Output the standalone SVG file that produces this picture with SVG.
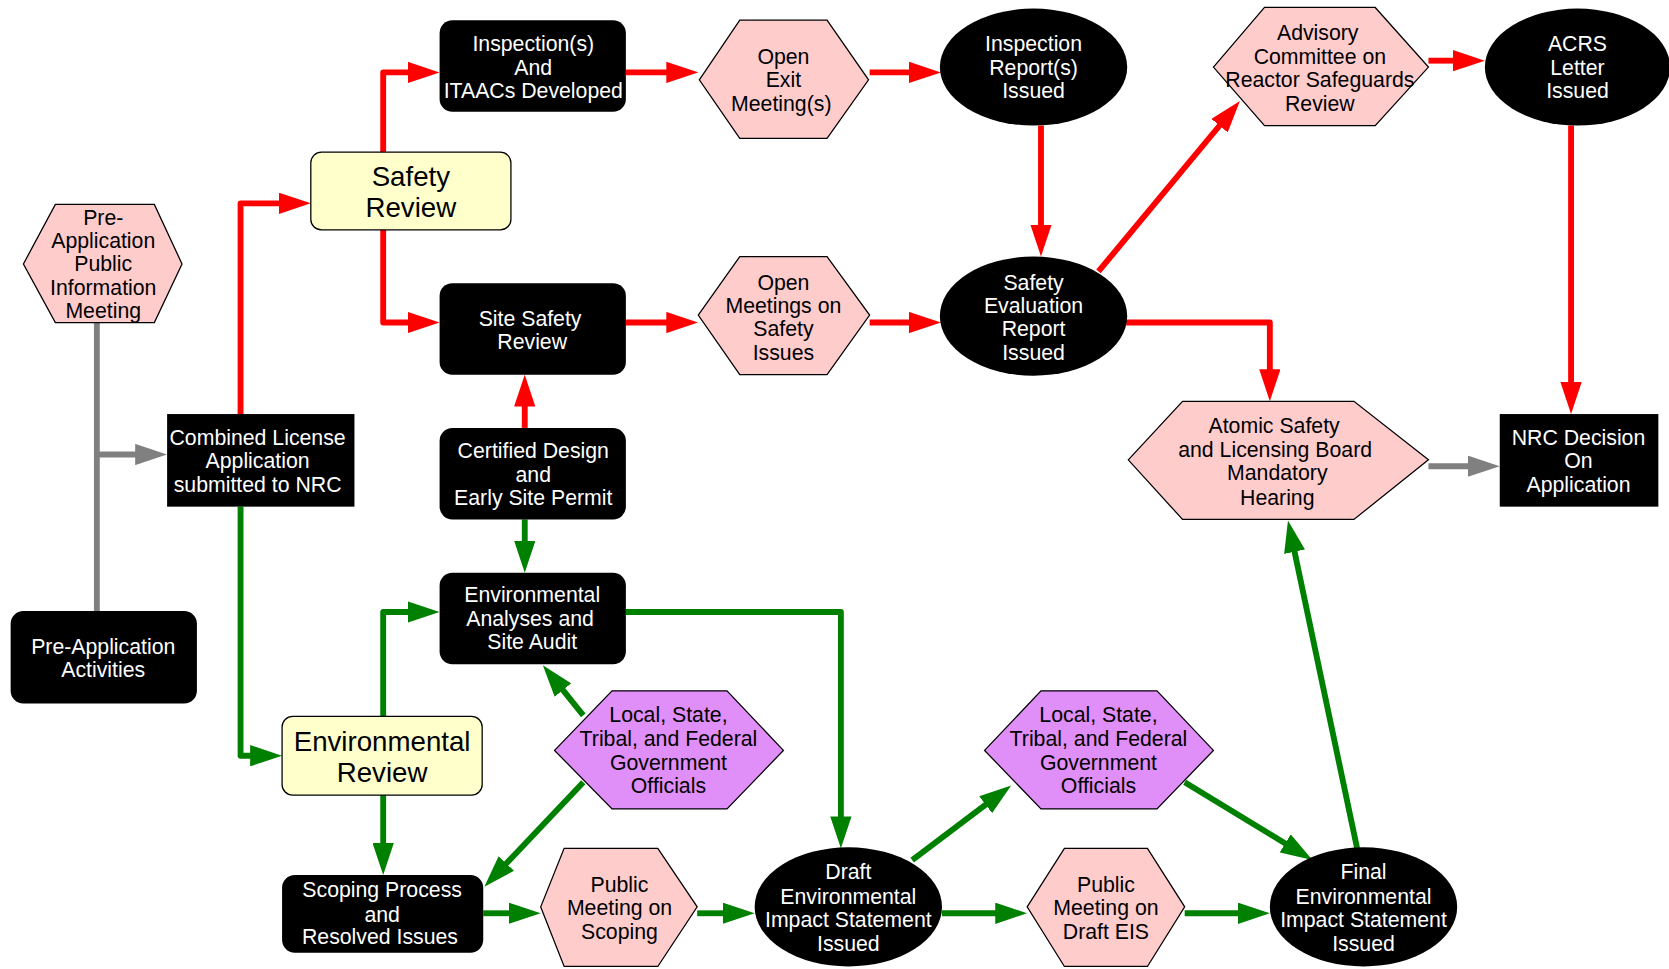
<svg xmlns="http://www.w3.org/2000/svg" width="1669" height="969" viewBox="0 0 1669 969">
<defs>
<style>
.blk{fill:#000}
.pink{fill:#FFCCCC;stroke:#000;stroke-width:1.2}
.yel{fill:#FFFFCC;stroke:#000;stroke-width:1.2}
.pur{fill:#E08EF8;stroke:#000;stroke-width:1.2}
text{font-family:"Liberation Sans",Arial,sans-serif;font-size:20px;text-anchor:middle}
.w{fill:#fff}
.k{fill:#000}
.big{font-size:26px}
.red{stroke:#FF0000;fill:none;stroke-width:5.5;stroke-linejoin:round}
.grn{stroke:#008000;fill:none;stroke-width:5.5;stroke-linejoin:round}
.gry{stroke:#808080;fill:none;stroke-width:5.5;stroke-linejoin:round}
</style>
<marker id="ar" markerUnits="userSpaceOnUse" markerWidth="30" markerHeight="20" viewBox="0 0 30 20" refX="2" refY="10" orient="auto"><path d="M0,0 L30,10 L0,20 z" fill="#FF0000"/></marker>
<marker id="ag" markerUnits="userSpaceOnUse" markerWidth="30" markerHeight="20" viewBox="0 0 30 20" refX="2" refY="10" orient="auto"><path d="M0,0 L30,10 L0,20 z" fill="#008000"/></marker>
<marker id="ay" markerUnits="userSpaceOnUse" markerWidth="30" markerHeight="20" viewBox="0 0 30 20" refX="2" refY="10" orient="auto"><path d="M0,0 L30,10 L0,20 z" fill="#808080"/></marker>
</defs>
<rect width="1669" height="969" fill="#fff"/>
<g transform="scale(1.06441)">
<g id="connectors">
<path class="gry" d="M91,303 V574"/>
<path class="gry" d="M91,427 H129" marker-end="url(#ay)"/>
<path class="gry" d="M1342,438 H1381" marker-end="url(#ay)"/>
<path class="red" d="M226,389 V191 H264" marker-end="url(#ar)"/>
<path class="red" d="M360,143 V68 H385" marker-end="url(#ar)"/>
<path class="red" d="M360,216 V303 H385" marker-end="url(#ar)"/>
<path class="red" d="M493,402 V380" marker-end="url(#ar)"/>
<path class="red" d="M588,68 H628" marker-end="url(#ar)"/>
<path class="red" d="M817,68 H856" marker-end="url(#ar)"/>
<path class="red" d="M978,118 V213" marker-end="url(#ar)"/>
<path class="red" d="M588,303 H628" marker-end="url(#ar)"/>
<path class="red" d="M817,303 H856" marker-end="url(#ar)"/>
<path class="red" d="M1032,255 L1147,116.5" marker-end="url(#ar)"/>
<path class="red" d="M1058,303 H1193 V349" marker-end="url(#ar)"/>
<path class="red" d="M1342,57 H1367" marker-end="url(#ar)"/>
<path class="red" d="M1476,118 V361" marker-end="url(#ar)"/>
<path class="grn" d="M226,476 V710 H237" marker-end="url(#ag)"/>
<path class="grn" d="M360,673 V575 H385" marker-end="url(#ag)"/>
<path class="grn" d="M360,747 V794" marker-end="url(#ag)"/>
<path class="grn" d="M493,488 V510" marker-end="url(#ag)"/>
<path class="grn" d="M548,672 L527.6,646.8" marker-end="url(#ag)"/>
<path class="grn" d="M548,735 L474.3,812.7" marker-end="url(#ag)"/>
<path class="grn" d="M588,575 H790 V769" marker-end="url(#ag)"/>
<path class="grn" d="M454,858 H480" marker-end="url(#ag)"/>
<path class="grn" d="M655,858 H681" marker-end="url(#ag)"/>
<path class="grn" d="M857,808 L927.6,754.8" marker-end="url(#ag)"/>
<path class="grn" d="M885,858 H937" marker-end="url(#ag)"/>
<path class="grn" d="M1113,858 H1165" marker-end="url(#ag)"/>
<path class="grn" d="M1113,735 L1209.1,793.4" marker-end="url(#ag)"/>
<path class="grn" d="M1275,797 L1215.8,516.4" marker-end="url(#ag)"/>
</g>

<g id="preappMeeting">
<polygon class="pink" points="22,248 52,192 145,192 171,248 145,303 52,303"/>
<text class="k" x="97" y="211">Pre-</text>
<text class="k" x="97" y="233">Application</text>
<text class="k" x="97" y="255">Public</text>
<text class="k" x="97" y="277">Information</text>
<text class="k" x="97" y="299">Meeting</text>
</g>
<g id="preappActivities">
<rect class="blk" x="10" y="574" width="175" height="87" rx="12"/>
<text class="w" x="97" y="614">Pre-Application</text>
<text class="w" x="97" y="636">Activities</text>
</g>
<g id="combined">
<rect class="blk" x="157" y="389" width="176" height="87"/>
<text class="w" x="242" y="418">Combined License</text>
<text class="w" x="242" y="440">Application</text>
<text class="w" x="242" y="462">submitted to NRC</text>
</g>
<g id="safetyReview">
<rect class="yel" x="292" y="143" width="188" height="73" rx="10"/>
<text class="k big" x="386" y="175">Safety</text>
<text class="k big" x="386" y="204">Review</text>
</g>
<g id="envReview">
<rect class="yel" x="265" y="673" width="188" height="74" rx="10"/>
<text class="k big" x="359" y="706">Environmental</text>
<text class="k big" x="359" y="735">Review</text>
</g>
<g id="inspections">
<rect class="blk" x="413" y="19" width="175" height="86" rx="12"/>
<text class="w" x="501" y="48">Inspection(s)</text>
<text class="w" x="501" y="70">And</text>
<text class="w" x="501" y="92">ITAACs Developed</text>
</g>
<g id="siteSafety">
<rect class="blk" x="413" y="266" width="175" height="86" rx="12"/>
<text class="w" x="498" y="306">Site Safety</text>
<text class="w" x="500" y="328">Review</text>
</g>
<g id="certified">
<rect class="blk" x="413" y="402" width="175" height="86" rx="12"/>
<text class="w" x="501" y="430">Certified Design</text>
<text class="w" x="501" y="453">and</text>
<text class="w" x="501" y="474">Early Site Permit</text>
</g>
<g id="envAnalyses">
<rect class="blk" x="413" y="538" width="175" height="86" rx="12"/>
<text class="w" x="500" y="566">Environmental</text>
<text class="w" x="498" y="588">Analyses and</text>
<text class="w" x="500" y="610">Site Audit</text>
</g>
<g id="scoping">
<rect class="blk" x="265" y="822" width="189" height="73" rx="12"/>
<text class="w" x="359" y="843">Scoping Process</text>
<text class="w" x="359" y="866">and</text>
<text class="w" x="357" y="887">Resolved Issues</text>
</g>
<g id="openExit">
<polygon class="pink" points="657,75 695,19 777,19 816,75 777,130 695,130"/>
<text class="k" x="736" y="60">Open</text>
<text class="k" x="736" y="82">Exit</text>
<text class="k" x="734" y="104">Meeting(s)</text>
</g>
<g id="openMeetings">
<polygon class="pink" points="656,296 695,241 777,241 817,296 777,352 695,352"/>
<text class="k" x="736" y="272">Open</text>
<text class="k" x="736" y="294">Meetings on</text>
<text class="k" x="736" y="316">Safety</text>
<text class="k" x="736" y="338">Issues</text>
</g>
<g id="inspReport">
<ellipse class="blk" cx="971" cy="63" rx="88" ry="55"/>
<text class="w" x="971" y="48">Inspection</text>
<text class="w" x="971" y="70">Report(s)</text>
<text class="w" x="971" y="92">Issued</text>
</g>
<g id="ser">
<ellipse class="blk" cx="971" cy="297" rx="88" ry="56"/>
<text class="w" x="971" y="272">Safety</text>
<text class="w" x="971" y="294">Evaluation</text>
<text class="w" x="971" y="316">Report</text>
<text class="w" x="971" y="338">Issued</text>
</g>
<g id="acrsReview">
<polygon class="pink" points="1140,63 1188,7 1292,7 1342,63 1292,118 1188,118"/>
<text class="k" x="1238" y="38">Advisory</text>
<text class="k" x="1240" y="60">Committee on</text>
<text class="k" x="1240" y="82">Reactor Safeguards</text>
<text class="k" x="1240" y="104">Review</text>
</g>
<g id="acrsLetter">
<ellipse class="blk" cx="1482" cy="63" rx="87" ry="55"/>
<text class="w" x="1482" y="48">ACRS</text>
<text class="w" x="1482" y="70">Letter</text>
<text class="w" x="1482" y="92">Issued</text>
</g>
<g id="aslb">
<polygon class="pink" points="1060,432 1111,377 1272,377 1342,432 1272,488 1111,488"/>
<text class="k" x="1197" y="407">Atomic Safety</text>
<text class="k" x="1198" y="429">and Licensing Board</text>
<text class="k" x="1200" y="451">Mandatory</text>
<text class="k" x="1200" y="474">Hearing</text>
</g>
<g id="nrcDecision">
<rect class="blk" x="1409" y="389" width="149" height="87"/>
<text class="w" x="1483" y="418">NRC Decision</text>
<text class="w" x="1483" y="440">On</text>
<text class="w" x="1483" y="462">Application</text>
</g>
<g id="officials1">
<polygon class="pur" points="521,705 575,649 683,649 736,705 683,760 575,760"/>
<text class="k" x="628" y="678">Local, State,</text>
<text class="k" x="628" y="701">Tribal, and Federal</text>
<text class="k" x="628" y="723">Government</text>
<text class="k" x="628" y="745">Officials</text>
</g>
<g id="officials2">
<polygon class="pur" points="925,705 978,649 1087,649 1140,705 1087,760 978,760"/>
<text class="k" x="1032" y="678">Local, State,</text>
<text class="k" x="1032" y="701">Tribal, and Federal</text>
<text class="k" x="1032" y="723">Government</text>
<text class="k" x="1032" y="745">Officials</text>
</g>
<g id="publicScoping">
<polygon class="pink" points="508,852 530,797 618,797 655,852 618,908 530,908"/>
<text class="k" x="582" y="838">Public</text>
<text class="k" x="582" y="860">Meeting on</text>
<text class="k" x="582" y="882">Scoping</text>
</g>
<g id="draftEis">
<ellipse class="blk" cx="797" cy="852" rx="88" ry="56"/>
<text class="w" x="797" y="826">Draft</text>
<text class="w" x="797" y="849">Environmental</text>
<text class="w" x="797" y="871">Impact Statement</text>
<text class="w" x="797" y="893">Issued</text>
</g>
<g id="publicDraftEis">
<polygon class="pink" points="965,852 1000,797 1078,797 1113,852 1078,908 1000,908"/>
<text class="k" x="1039" y="838">Public</text>
<text class="k" x="1039" y="860">Meeting on</text>
<text class="k" x="1039" y="882">Draft EIS</text>
</g>
<g id="finalEis">
<ellipse class="blk" cx="1281" cy="852" rx="88" ry="56"/>
<text class="w" x="1281" y="826">Final</text>
<text class="w" x="1281" y="849">Environmental</text>
<text class="w" x="1281" y="871">Impact Statement</text>
<text class="w" x="1281" y="893">Issued</text>
</g>
</g>
</svg>
